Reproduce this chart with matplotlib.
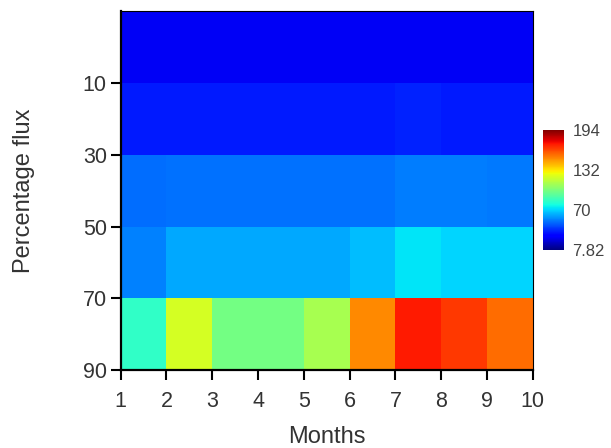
import numpy as np
import matplotlib.pyplot as plt

plt.rcParams['font.family'] = ['Liberation Sans', 'DejaVu Sans']

month_edges = [1, 2, 3, 4, 5, 6, 7, 8, 9, 10]
flux_edges = [-10, 10, 30, 50, 70, 90]
flux_ticks = [10, 30, 50, 70, 90]

# one row per flux band (top to bottom), one value per month interval
row1 = [27, 27, 27, 27, 27, 27, 27, 27, 27]
row2 = [36, 36, 36, 36, 36, 36, 37, 36, 36]
row3 = [51, 52, 52, 52, 52, 52, 54, 54, 53]
row4 = [55, 62, 62, 62, 62, 66, 73, 70, 70]
row5 = [84, 121, 99, 99, 111, 150, 172, 166, 156]
values = np.array([row1, row2, row3, row4, row5])

vmin, vmax = 7.82, 194
cbar_ticks = [7.82, 70, 132, 194]
cbar_labels = ['7.82', '70', '132', '194']

fig = plt.figure(figsize=(6.11, 4.48), dpi=100)
ax = fig.add_axes([0.1975, 0.174, 0.6745, 0.801])

mesh = ax.pcolormesh(month_edges, flux_edges, values, cmap='jet',
                     vmin=vmin, vmax=vmax, shading='flat')
ax.set_xlim(1, 10)
ax.set_ylim(90, -10)
ax.set_xticks(month_edges)
ax.set_yticks(flux_ticks)

for side in ['left', 'bottom']:
    ax.spines[side].set_linewidth(1.6)
for side in ['top', 'right']:
    ax.spines[side].set_linewidth(0.8)
ax.tick_params(direction='out', length=7, width=1.5, labelsize=15.5,
               labelcolor='#333333')
ax.tick_params(axis='x', pad=8)
ax.tick_params(axis='y', pad=3)

ax.set_xlabel('Months', fontsize=17, color='#333333', labelpad=10)
ax.set_ylabel('Percentage flux', fontsize=17, color='#333333', labelpad=34)

cax = fig.add_axes([0.888, 0.442, 0.0354, 0.268])
cb = fig.colorbar(mesh, cax=cax, ticks=cbar_ticks)
cb.outline.set_visible(False)
cb.ax.set_yticklabels(cbar_labels)
cb.ax.tick_params(length=0, labelsize=12, labelcolor='#444444', pad=6)

fig.savefig('out.png', dpi=100)
